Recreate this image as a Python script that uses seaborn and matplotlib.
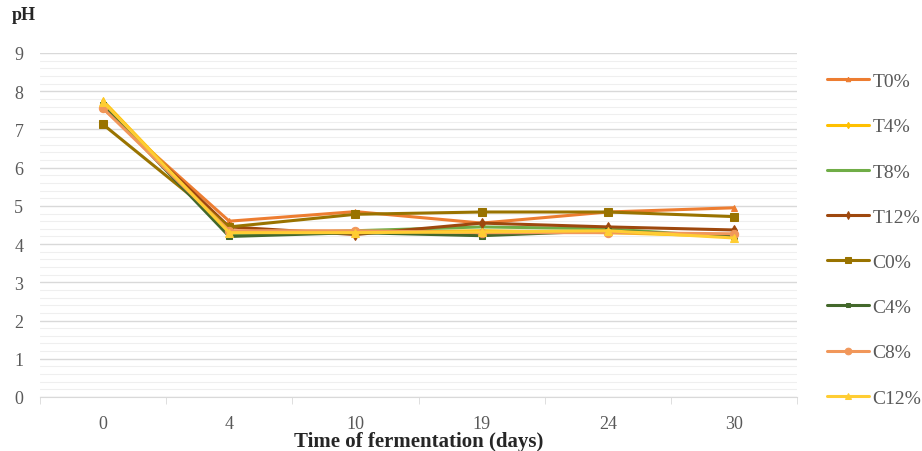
import seaborn as sns
import matplotlib.pyplot as plt
from matplotlib.ticker import MultipleLocator

# pH readings over fermentation time
days = ["0", "4", "10", "19", "24", "30"]
t0 = [7.55, 4.60, 4.85, 4.55, 4.84, 4.95]
t4 = [7.75, 4.30, 4.30, 4.35, 4.30, 4.20]
t8 = [7.70, 4.25, 4.35, 4.45, 4.40, 4.18]
t12 = [7.60, 4.45, 4.25, 4.55, 4.45, 4.37]
c0 = [7.13, 4.45, 4.78, 4.84, 4.84, 4.72]
c4 = [7.65, 4.20, 4.30, 4.22, 4.35, 4.20]
c8 = [7.55, 4.35, 4.35, 4.30, 4.30, 4.27]
c12 = [7.72, 4.30, 4.30, 4.32, 4.35, 4.16]

series = [
    ("T0%", t0, "#ED7D31", "^", 4),
    ("T4%", t4, "#FFC000", "d", 4),
    ("T8%", t8, "#70AD47", None, 0),
    ("T12%", t12, "#9E480E", "d", 5),
    ("C0%", c0, "#997300", "s", 6),
    ("C4%", c4, "#43682B", "s", 4),
    ("C8%", c8, "#F1975A", "o", 6),
    ("C12%", c12, "#FFCD33", "^", 6),
]

sns.set_style("white")
plt.rcParams['font.family'] = ['Liberation Serif', 'DejaVu Serif']

fig = plt.figure(figsize=(9.22, 4.52), dpi=100)
ax = fig.add_axes([40 / 922, 1 - 398 / 452, 757 / 922, 344 / 452])

for name, vals, col, mk, ms in series:
    sns.lineplot(x=days, y=vals, ax=ax, color=col, marker=mk, markersize=ms,
                 markeredgecolor=col, linewidth=2.2, label=name, legend=False)

ax.set_xlim(-0.5, 5.5)
ax.set_ylim(0, 9)
ax.yaxis.set_major_locator(MultipleLocator(1))
ax.yaxis.set_minor_locator(MultipleLocator(0.2))
ax.grid(axis="y", which="major", color="#D9D9D9", linewidth=1)
ax.grid(axis="y", which="minor", color="#EFEFEF", linewidth=0.8)
ax.set_axisbelow(True)

ax.xaxis.set_minor_locator(MultipleLocator(1, offset=0.5))
ax.tick_params(axis="x", which="major", length=0, pad=13, labelsize=13, labelcolor="#595959")
ax.tick_params(axis="x", which="minor", length=5, color="#D9D9D9", bottom=True)
ax.tick_params(axis="y", which="both", length=0, pad=12, labelsize=13, labelcolor="#595959")

for s in ["top", "right", "left"]:
    ax.spines[s].set_visible(False)
ax.spines["bottom"].set_color("#D9D9D9")

ax.set_xlabel("Time of fermentation (days)", fontsize=15, fontweight="bold", labelpad=-1)
ax.set_ylabel("")
fig.text(12 / 922, 1 - 16 / 452, "pH", fontsize=13, fontweight="bold", va="center")

handles, labels = ax.get_legend_handles_labels()
fig.legend(handles, labels, loc="upper left", bbox_to_anchor=(809 / 922, 1 - 56 / 452),
           frameon=False, fontsize=14, labelcolor="#595959", handlelength=2.2,
           handletextpad=0.15, labelspacing=1.42, markerscale=0.8)

fig.savefig("out.png", dpi=100)
